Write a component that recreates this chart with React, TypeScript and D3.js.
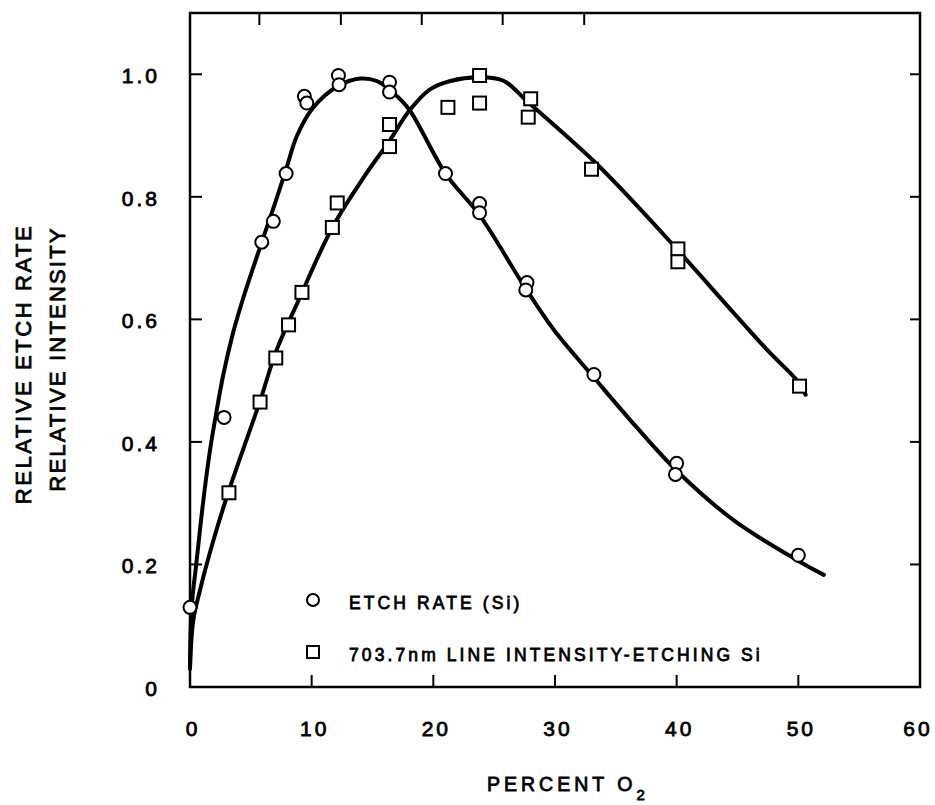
import React, { useEffect, useRef } from "react";
import * as d3 from "d3";

// measured points: etch rate (circles)
const etchX = [0, 2.8, 5.9, 6.85, 7.9, 9.4, 9.6, 12.2, 12.25, 16.4, 16.4, 21.0, 23.8, 23.8, 27.7, 27.6, 33.2, 40.0, 39.9, 50.0];
const etchY = [0.13, 0.44, 0.726, 0.76, 0.838, 0.964, 0.953, 0.998, 0.983, 0.987, 0.971, 0.838, 0.789, 0.774, 0.66, 0.648, 0.51, 0.365, 0.347, 0.215];

// measured points: 703.7nm line intensity (squares)
const lineX = [3.2, 5.76, 7.05, 8.1, 9.2, 11.7, 12.1, 16.4, 16.4, 21.2, 23.8, 23.8, 28.0, 27.8, 33.0, 40.1, 40.1, 50.1];
const lineY = [0.317, 0.465, 0.537, 0.591, 0.644, 0.75, 0.79, 0.882, 0.918, 0.946, 0.953, 0.998, 0.96, 0.93, 0.845, 0.715, 0.694, 0.491];

// hand drawn fit curves
const etchCurveX = [0, 0.14, 0.55, 1.1, 1.64, 2.19, 2.74, 3.5, 4.3, 5.9, 7.0, 7.9, 8.8, 10.1, 12.1, 14.0, 15.35, 16.7, 18.0, 21.0, 23.8, 27.6, 29.9, 33.2, 36.7, 40.0, 44.7, 49.9, 52.1];
const etchCurveY = [0.03, 0.131, 0.207, 0.305, 0.386, 0.451, 0.51, 0.575, 0.63, 0.726, 0.79, 0.845, 0.9, 0.945, 0.98, 0.993, 0.989, 0.97, 0.943, 0.838, 0.77, 0.65, 0.583, 0.505, 0.424, 0.353, 0.272, 0.207, 0.183];
const lineCurveX = [0, 0.27, 0.82, 1.92, 3.15, 5.76, 7.1, 8.9, 11.7, 14.25, 16.45, 18.0, 19.7, 21.4, 23.85, 25.8, 27.7, 33.2, 37.0, 40.0, 47.4, 49.9, 50.6];
const lineCurveY = [0.03, 0.109, 0.158, 0.239, 0.318, 0.467, 0.549, 0.63, 0.75, 0.831, 0.893, 0.94, 0.975, 0.989, 0.995, 0.989, 0.956, 0.858, 0.78, 0.715, 0.551, 0.5, 0.477];

const xTicks = [0, 10, 20, 30, 40, 50, 60];
const yTicks = [0, 0.2, 0.4, 0.6, 0.8, 1.0];
const yTickLabels = ["0", "0.2", "0.4", "0.6", "0.8", "1.0"];
const topTicks = [5.7, 12.4, 19.05, 25.7, 32.4];

const legendLabels = ["ETCH RATE (Si)", "703.7nm LINE INTENSITY-ETCHING Si"];

const FONT = "'Liberation Sans', Arial, Helvetica, sans-serif";
const TEXT_STROKE = 0.8;

const App = () => {
  const svgRef = useRef<SVGSVGElement>(null);

  useEffect(() => {
    document.body.style.margin = "0";
    const margin = { top: 13, right: 15, bottom: 118, left: 190 };
    const width = 935 - margin.left - margin.right;
    const height = 805 - margin.top - margin.bottom;
    const svg = d3.select(svgRef.current);
    svg.selectAll("*").remove();

    const x = d3.scaleLinear().domain([0, 60]).range([0, width]);
    const y = d3.scaleLinear().domain([0, 1.1]).range([height, 0]);

    const chart = svg.append("g").attr("transform", `translate(${margin.left},${margin.top})`);

    // frame
    chart
      .append("rect")
      .attr("width", width)
      .attr("height", height)
      .attr("fill", "none")
      .attr("stroke", "#000")
      .attr("stroke-width", 2.5);

    // ticks inside the frame
    const tickLen = 12;
    chart
      .selectAll(".xtick")
      .data(xTicks.filter((d) => d > 0 && d < 60))
      .enter()
      .append("line")
      .attr("x1", (d) => x(d))
      .attr("x2", (d) => x(d))
      .attr("y1", height)
      .attr("y2", height - tickLen)
      .attr("stroke", "#000")
      .attr("stroke-width", 2);

    chart
      .selectAll(".toptick")
      .data(topTicks)
      .enter()
      .append("line")
      .attr("x1", (d) => x(d))
      .attr("x2", (d) => x(d))
      .attr("y1", 0)
      .attr("y2", tickLen)
      .attr("stroke", "#000")
      .attr("stroke-width", 2);

    chart
      .selectAll(".ytick")
      .data(yTicks.filter((d) => d > 0))
      .enter()
      .append("line")
      .attr("x1", 0)
      .attr("x2", tickLen)
      .attr("y1", (d) => y(d))
      .attr("y2", (d) => y(d))
      .attr("stroke", "#000")
      .attr("stroke-width", 2);

    chart
      .selectAll(".ytick-r")
      .data(yTicks.filter((d) => d > 0))
      .enter()
      .append("line")
      .attr("x1", width)
      .attr("x2", width - 10)
      .attr("y1", (d) => y(d))
      .attr("y2", (d) => y(d))
      .attr("stroke", "#000")
      .attr("stroke-width", 2);

    // tick labels
    chart
      .selectAll(".xlabel")
      .data(xTicks)
      .enter()
      .append("text")
      .attr("x", (d) => x(d) + (d === 60 ? -2 : 3))
      .attr("y", height + 49)
      .attr("text-anchor", "middle")
      .style("font-family", FONT)
      .style("font-size", "21px")
      .style("letter-spacing", "3px")
      .style("stroke", "#000")
      .style("stroke-width", TEXT_STROKE)
      .text((d) => d);

    chart
      .selectAll(".ylabel")
      .data(yTicks)
      .enter()
      .append("text")
      .attr("x", -30)
      .attr("y", (d) => y(d) + 9)
      .attr("text-anchor", "end")
      .style("font-family", FONT)
      .style("font-size", "21px")
      .style("letter-spacing", "3px")
      .style("stroke", "#000")
      .style("stroke-width", TEXT_STROKE)
      .text((d, i) => yTickLabels[i]);

    // fitted curves
    const line = d3
      .line<[number, number]>()
      .x((d) => x(d[0]))
      .y((d) => y(d[1]))
      .curve(d3.curveCatmullRom.alpha(0.5));

    const drawCurve = (xs: number[], ys: number[]) => {
      chart
        .append("path")
        .datum(xs.map((d, i) => [d, ys[i]] as [number, number]))
        .attr("d", line)
        .attr("fill", "none")
        .attr("stroke", "#000")
        .attr("stroke-width", 4)
        .attr("stroke-linecap", "round");
    };
    drawCurve(etchCurveX, etchCurveY);
    drawCurve(lineCurveX, lineCurveY);

    // markers
    const sq = 13;
    chart
      .selectAll(".sq")
      .data(lineX.map((d, i) => [d, lineY[i]]))
      .enter()
      .append("rect")
      .attr("x", (d) => x(d[0]) - sq / 2)
      .attr("y", (d) => y(d[1]) - sq / 2)
      .attr("width", sq)
      .attr("height", sq)
      .attr("fill", "#fff")
      .attr("stroke", "#000")
      .attr("stroke-width", 2);

    chart
      .selectAll(".dot")
      .data(etchX.map((d, i) => [d, etchY[i]]))
      .enter()
      .append("circle")
      .attr("cx", (d) => x(d[0]))
      .attr("cy", (d) => y(d[1]))
      .attr("r", 6.5)
      .attr("fill", "#fff")
      .attr("stroke", "#000")
      .attr("stroke-width", 2);

    // legend
    const lg = chart.append("g").attr("transform", `translate(${123},${587})`);
    lg.append("circle")
      .attr("cx", 0)
      .attr("cy", 0)
      .attr("r", 6)
      .attr("fill", "#fff")
      .attr("stroke", "#000")
      .attr("stroke-width", 2);
    lg.append("rect")
      .attr("x", -6)
      .attr("y", 52 - 6)
      .attr("width", 12)
      .attr("height", 12)
      .attr("fill", "#fff")
      .attr("stroke", "#000")
      .attr("stroke-width", 2);
    lg.selectAll(".lgtext")
      .data(legendLabels)
      .enter()
      .append("text")
      .attr("x", 36)
      .attr("y", (d, i) => 9 + i * 52)
      .style("font-family", FONT)
      .style("font-size", "17.5px")
      .style("letter-spacing", "3.1px")
      .style("stroke", "#000")
      .style("stroke-width", TEXT_STROKE)
      .text((d) => d);

    // axis titles
    const xt = svg
      .append("text")
      .attr("x", 487)
      .attr("y", 791)
      .style("font-family", FONT)
      .style("font-size", "19.5px")
      .style("letter-spacing", "4px")
      .style("stroke", "#000")
      .style("stroke-width", TEXT_STROKE);
    xt.append("tspan").text("PERCENT O");
    xt.append("tspan").attr("dy", 9).style("font-size", "15px").style("letter-spacing", "0px").text("2");

    svg
      .append("text")
      .attr("transform", "translate(31,364) rotate(-90)")
      .attr("text-anchor", "middle")
      .style("font-family", FONT)
      .style("font-size", "22px")
      .style("letter-spacing", "2.6px")
      .style("stroke", "#000")
      .style("stroke-width", TEXT_STROKE)
      .text("RELATIVE ETCH RATE");

    svg
      .append("text")
      .attr("transform", "translate(65,359) rotate(-90)")
      .attr("text-anchor", "middle")
      .style("font-family", FONT)
      .style("font-size", "22px")
      .style("letter-spacing", "2.2px")
      .style("stroke", "#000")
      .style("stroke-width", TEXT_STROKE)
      .text("RELATIVE INTENSITY");
  }, []);

  return <svg ref={svgRef} width={935} height={805} style={{ display: "block", background: "#fff" }}></svg>;
};

export default App;
